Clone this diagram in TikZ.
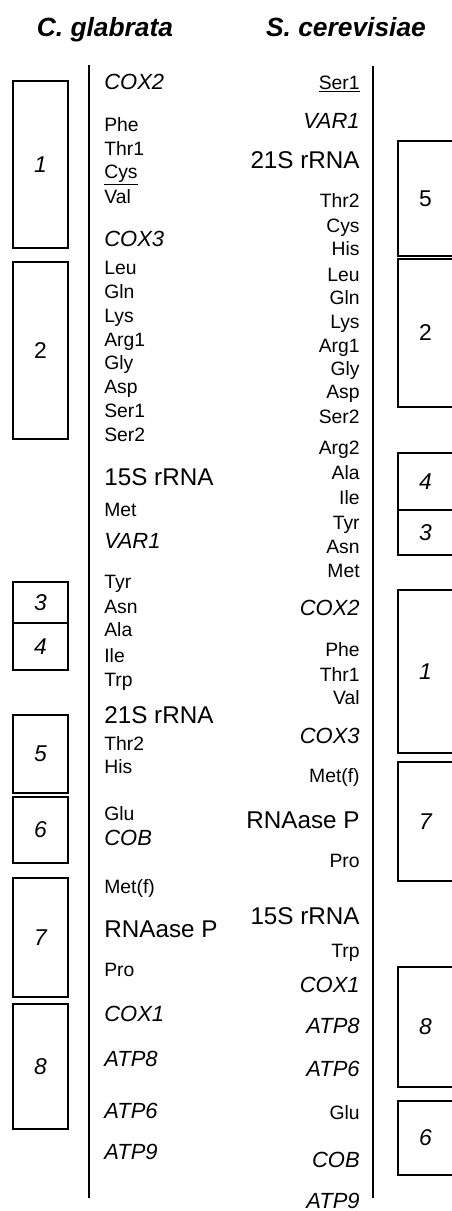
\documentclass[tikz,border=0pt]{standalone}
\usepackage{fontspec}
\setmainfont{Liberation Sans}
\usetikzlibrary{positioning}
\tikzset{
  lab/.style  ={inner sep=0pt, font=\fontsize{11}{13}\selectfont},
  cg/.style   ={lab, anchor=base west},
  sc/.style   ={lab, anchor=base east},
  trna/.style ={},
  gene/.style ={font=\fontsize{12.5}{15}\selectfont\itshape},
  rrna/.style ={font=\fontsize{13.8}{16}\selectfont},
  title/.style={anchor=base, inner sep=0pt,
                font=\fontsize{15}{18}\selectfont\bfseries\itshape},
  seg/.style  ={draw, line width=1.1pt, inner sep=0pt, minimum width=1.1cm,
                font=\fontsize{13}{15}\selectfont\itshape},
  up/.style   ={font=\fontsize{13}{15}\selectfont\upshape},
  slant/.style={},
  genome/.style={line width=1.2pt},
}
% name/baseline/text/style, C. glabrata (left column)
\def\cglist{%
  COX2/89/COX2/gene, Phe/131/Phe/trna, ThrI/155/Thr1/trna,
  Cys/178/{\underline{Cys}}/trna, Val/203/Val/trna, COX3/246/COX3/gene,
  Leu/274/Leu/trna, Gln/298/Gln/trna, Lys/322/Lys/trna, ArgI/346/Arg1/trna,
  Gly/369/Gly/trna, Asp/393/Asp/trna, SerI/417/Ser1/trna, SerII/441/Ser2/trna,
  rrnaS/485/15S rRNA/rrna, Met/516/Met/trna, VAR1/548/VAR1/gene,
  Tyr/588/Tyr/trna, Asn/613/Asn/trna, Ala/636/Ala/trna, Ile/662/Ile/trna,
  Trp/686/Trp/trna, rrnaL/723/21S rRNA/rrna, ThrII/750/Thr2/trna,
  His/773/His/trna, Glu/820/Glu/trna, COB/845/COB/gene,
  Metf/893/Met(f)/trna, RNP/937/RNAase P/rrna, Pro/976/Pro/trna,
  COX1/1021/COX1/gene, ATP8/1066/ATP8/gene, ATP6/1118/ATP6/gene,
  ATP9/1159/ATP9/gene}
% S. cerevisiae (right column)
\def\sclist{%
  SerI/89/{\underline{Ser1}}/trna, VAR1/128/VAR1/gene,
  rrnaL/168/21S rRNA/rrna, ThrII/207/Thr2/trna, Cys/232/Cys/trna,
  His/255/His/trna, Leu/281/Leu/trna, Gln/304/Gln/trna, Lys/328/Lys/trna,
  ArgI/352/Arg1/trna, Gly/375/Gly/trna, Asp/398/Asp/trna, SerII/423/Ser2/trna,
  ArgII/454/Arg2/trna, Ala/479/Ala/trna, Ile/504/Ile/trna, Tyr/529/Tyr/trna,
  Asn/553/Asn/trna, Met/577/Met/trna, COX2/615/COX2/gene, Phe/656/Phe/trna,
  ThrI/681/Thr1/trna, Val/704/Val/trna, COX3/743/COX3/gene,
  Metf/782/Met(f)/trna, RNP/828/RNAase P/rrna, Pro/867/Pro/trna,
  rrnaS/924/15S rRNA/rrna, Trp/957/Trp/trna, COX1/992/COX1/gene,
  ATP8/1033/ATP8/gene, ATP6/1076/ATP6/gene, Glu/1119/Glu/trna,
  COB/1167/COB/gene, ATP9/1208/ATP9/gene}
% blocks: number/top/bottom/style
\def\cgblocks{1/81/248/slant, 2/262/439/up, 3/582/623/slant, 4/623/670/slant,
  5/715/793/slant, 6/797/863/slant, 7/878/997/slant, 8/1004/1129/slant}
\def\scblocks{5/141/256/up, 2/259/407/up, 4/453/510/slant, 3/510/555/slant,
  1/590/753/slant, 7/762/881/slant, 8/967/1087/slant, 6/1101/1175/slant}

\begin{document}
\begin{tikzpicture}[x=0.02cm, y=-0.02cm]
\useasboundingbox (0,0) rectangle (452,1211);
\clip (0,0) rectangle (452,1211);
\node[title] (cgname) at (105,36) {C. glabrata};
\node[title] (scname) at (346,36) {S. cerevisiae};
% the two genomes
\coordinate (cgtop) at (89,65);  \coordinate (cgbot) at (89,1198);
\coordinate (sctop) at (373,66); \coordinate (scbot) at (373,1198);
\draw[genome] (cgtop) -- (cgbot);
\draw[genome] (sctop) -- (scbot);
\foreach \n/\y/\t/\s in \cglist {\node[cg,\s] (cg\n) at (104,\y) {\t};}
\foreach \n/\y/\t/\s in \sclist {\node[sc,\s] (sc\n) at (360,\y) {\t};}
% conserved gene blocks
\foreach \n/\a/\b/\s in \cgblocks
  {\node[seg,\s,minimum height={(\b-\a)*0.02cm}] (cgblk\n)
     at (40.5,{(\a+\b)/2}) {\n};}
\foreach \n/\a/\b/\s in \scblocks
  {\node[seg,\s,minimum height={(\b-\a)*0.02cm}] (scblk\n)
     at (425.5,{(\a+\b)/2}) {\n};}
\end{tikzpicture}
\end{document}
